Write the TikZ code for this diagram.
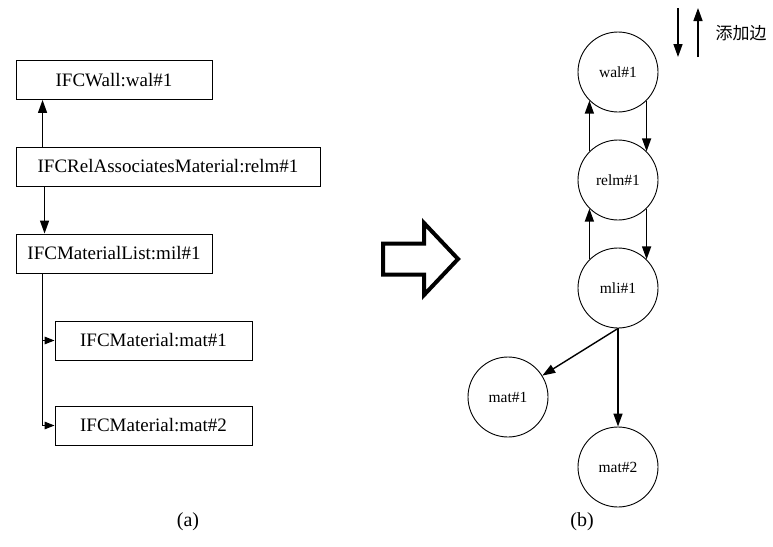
\documentclass[tikz,border=0pt]{standalone}
\usepackage{fontspec}
\setmainfont{Liberation Serif}
\newfontfamily\cjk{Noto Sans CJK SC}
\usepackage{tikz}
\usetikzlibrary{
	arrows.meta,
	calc,
	positioning,
	shapes,
}
\tikzset{
	entity/.style={draw, line width=0.9pt, rectangle, minimum height=39pt, inner sep=0pt, font=\fontsize{19}{21}\selectfont},
	vertex/.style={draw, line width=0.9pt, circle, minimum size=80pt, inner sep=0pt, font=\fontsize{15.5}{18}\selectfont},
	edge/.style={line width=1.4pt, -{Triangle[length=13pt,width=9pt]}},
	small edge/.style={line width=1.4pt, -{Triangle[length=10pt,width=7.5pt]}},
}

\begin{document}
\begin{tikzpicture}[x=1pt, y=-1pt]
			\useasboundingbox (0,0) rectangle (773,546);
			\node[entity, minimum width=196pt] (wall) at (114,80) {IFCWall:wal\#1};
			\node[entity, minimum width=304pt] (relm) at (168,166.5) {IFCRelAssociatesMaterial:relm\#1};
			\node[entity, minimum width=196pt] (mil) at (114,253.5) {IFCMaterialList:mil\#1};
			\node[entity, minimum width=197pt] (mat1) at (153.5,340.5) {IFCMaterial:mat\#1};
			\node[entity, minimum width=197pt] (mat2) at (153.5,425.5) {IFCMaterial:mat\#2};
			\draw[edge] ([xshift=27pt]relm.north west) -- ([xshift=27pt]wall.south west);
			\draw[edge] ([xshift=29pt]relm.south west) -- ([xshift=29pt]mil.north west);
			\draw[small edge] ([xshift=27pt]mil.south west) |- (mat1.west);
			\draw[small edge] ([xshift=27pt]mil.south west) |- (mat2.west);
			\node[font=\fontsize{20}{22}\selectfont] (a) at (188,522) {(a)};
			\draw[line width=4pt, line join=miter] (383,243.5) -- (424,243.5) -- (424,223) -- (458,259) -- (424,295) -- (424,274.5) -- (383,274.5) -- cycle;
			\node[vertex] (wal) at (618,72) {wal\#1};
			\node[vertex] (relmb) at (618,180) {relm\#1};
			\node[vertex] (mli) at (618,288) {mli\#1};
			\node[vertex] (mat1b) at (508,397) {mat\#1};
			\node[vertex] (mat2b) at (618,467) {mat\#2};
			\draw[edge] (wal.-45) -- (relmb.45);
			\draw[edge] (relmb.135) -- (wal.-135);
			\draw[edge] (relmb.-45) -- (mli.45);
			\draw[edge] (mli.135) -- (relmb.-135);
			\draw[edge] (mli.south) -- (mat1b);
			\draw[edge] (mli.south) -- (mat2b);
			\node[font=\fontsize{20}{22}\selectfont] (b) at (582,522) {(b)};
			\coordinate (down top) at (678,8);
			\coordinate (down end) at (678,57);
			\coordinate (up start) at (698,57);
			\coordinate (up end) at (698,8);
			\draw[edge] (down top) -- (down end);
			\draw[edge] (up start) -- (up end);
			\node[anchor=west, font=\cjk\fontsize{17}{20}\selectfont] (legend) at (712,33) {添加边};
		\end{tikzpicture}
\end{document}
